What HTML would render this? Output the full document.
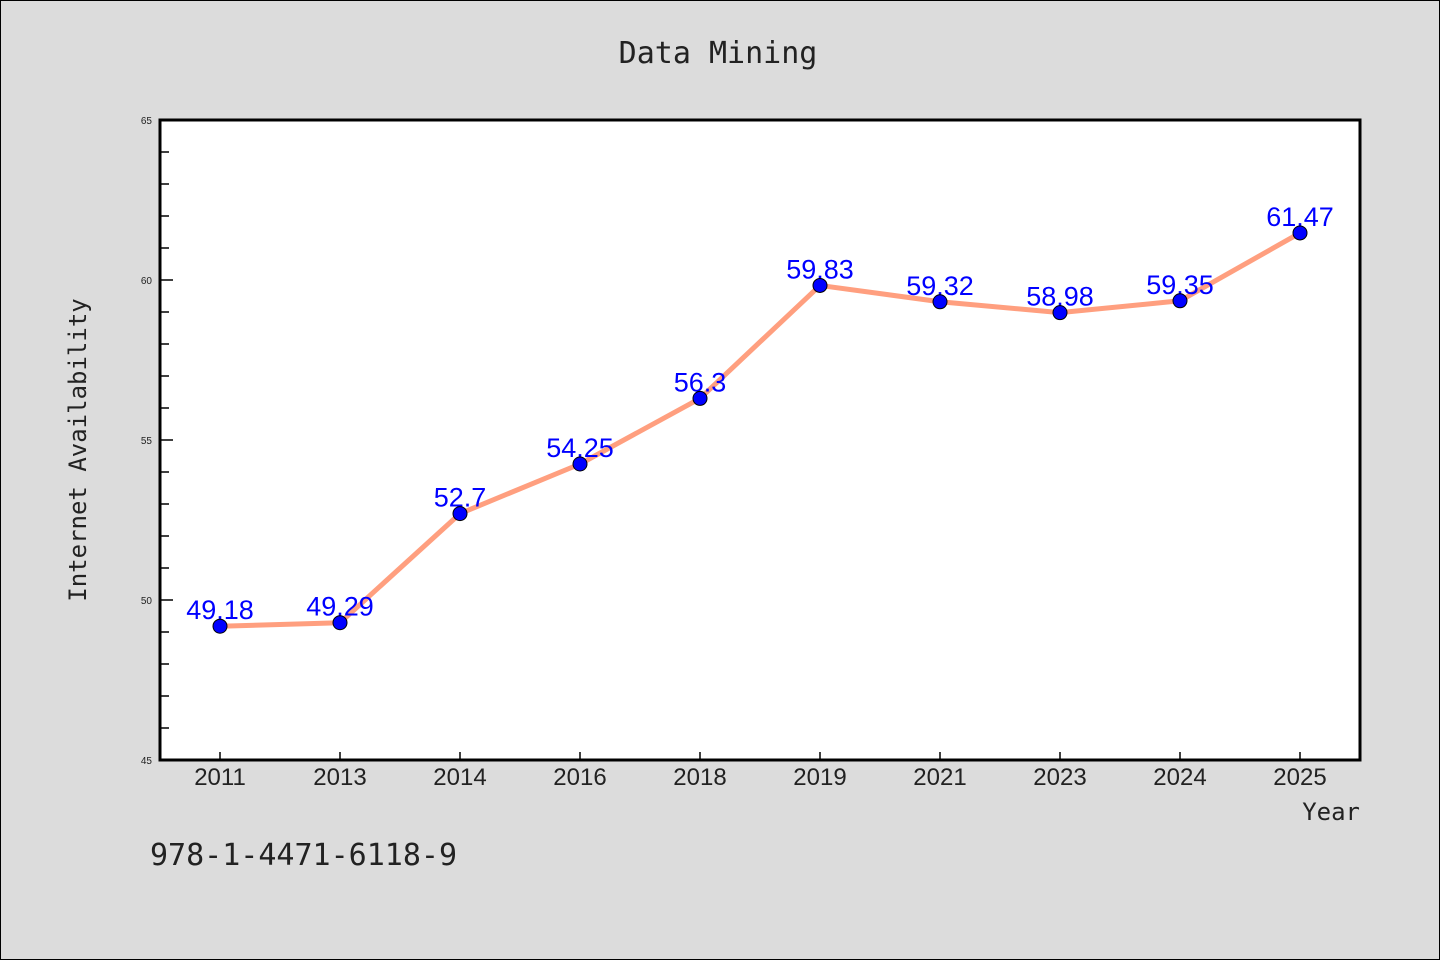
<!DOCTYPE html>
<html><head><meta charset="utf-8"><style>
body{margin:0;background:#dcdcdc;}
svg{display:block;font-family:"Liberation Sans","DejaVu Sans",sans-serif;}
</style></head><body>
<svg width="1440" height="960">
<rect x="0.5" y="0.5" width="1439" height="959" fill="#dcdcdc" stroke="#000"/>
<text x="718" y="63" text-anchor="middle" font-family="DejaVu Sans Mono,monospace" font-size="30" fill="#222">Data Mining</text>
<rect x="160" y="120" width="1200" height="640" fill="#fff"/>
<g id="ticks"></g>
<rect x="160" y="120" width="1200" height="640" fill="none" stroke="#000" stroke-width="3"/>
<polyline id="line" fill="none" stroke="#ff9f7f" stroke-width="5" stroke-linejoin="round"/>
<g id="labels"></g>
<g id="points"></g>
<text x="86" y="450" transform="rotate(-90 86 450)" text-anchor="middle" font-family="DejaVu Sans Mono,monospace" font-size="24" fill="#222">Internet Availability</text>
<text x="1360" y="820" text-anchor="end" font-family="DejaVu Sans Mono,monospace" font-size="24" fill="#222">Year</text>
<text x="150" y="865" font-family="DejaVu Sans Mono,monospace" font-size="30" fill="#222">978-1-4471-6118-9</text>
</svg>
<script>
const categories=["2011","2013","2014","2016","2018","2019","2021","2023","2024","2025"];
const values=[49.18,49.29,52.7,54.25,56.3,59.83,59.32,58.98,59.35,61.47];
const valueLabels=["49.18","49.29","52.7","54.25","56.3","59.83","59.32","58.98","59.35","61.47"];
const yTicks=[45,50,55,60,65];
const NS="http://www.w3.org/2000/svg";
const yMin=45,yMax=65,yTop=120,yBot=760,xLeft=160;
const ys=v=>yBot-(v-yMin)/(yMax-yMin)*(yBot-yTop);
const xs=i=>xLeft+60+120*i;
function mk(t,a,p){const e=document.createElementNS(NS,t);for(const k in a)e.setAttribute(k,a[k]);p.appendChild(e);return e;}
const tg=document.getElementById('ticks');
for(let v=yMin;v<=yMax;v++){
 const major=yTicks.includes(v);
 const l=mk('line',{x1:160,x2:major?173:169,y1:ys(v),y2:ys(v),stroke:'#000','stroke-width':1.5},tg);
 
 
}
yTicks.forEach(v=>{
 const t=mk('text',{x:152,y:ys(v)+4,'text-anchor':'end','font-size':10,fill:'#222'},tg);
 t.textContent=v;
 
 
});
categories.forEach((c,i)=>{
 const l=mk('line',{x1:xs(i),x2:xs(i),y1:760,y2:752,stroke:'#000','stroke-width':1.5},tg);
 
 
 const t=mk('text',{x:xs(i),y:785,'text-anchor':'middle','font-size':24,fill:'#222'},tg);
 t.textContent=c;
 
 
});
document.getElementById('line').setAttribute('points',values.map((v,i)=>xs(i)+','+ys(v)).join(' '));
const lg=document.getElementById('labels'),pg=document.getElementById('points');
values.forEach((v,i)=>{
 const t=mk('text',{x:xs(i),y:ys(v)-7,'text-anchor':'middle','font-size':27,fill:'#0000ff'},lg);
 t.textContent=valueLabels[i];
 
 
 const c=mk('circle',{cx:xs(i),cy:ys(v),r:7,fill:'#0000ff',stroke:'#000','stroke-width':1},pg);
 
 
});
</script>
</body></html>
